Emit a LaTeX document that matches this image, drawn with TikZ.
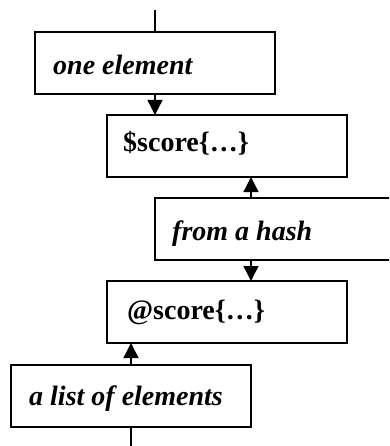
\documentclass[tikz,border=0pt]{standalone}
\usepackage{fontspec}
\setmainfont{Liberation Serif}
\usetikzlibrary{arrows.meta}
\begin{document}
\begin{tikzpicture}[x=1pt,y=-1pt,
 box/.style={draw, line width=1.3pt, minimum width=240pt, minimum height=62pt, anchor=north west, inner sep=0pt, outer sep=0pt},
 lbl/.style={anchor=base west, inner sep=0pt, font=\fontsize{28}{32}\selectfont\bfseries\itshape},
 code/.style={anchor=base west, inner sep=0pt, font=\fontsize{28}{32}\selectfont\bfseries},
 conn/.style={line width=1.3pt},
 arr/.style={conn, -{Triangle[length=15pt,width=15pt]}}]
\clip (0,0) rectangle (389,446);
\node[box] (b1) at (35,32) {};
\node[box] (b2) at (107,115) {};
\node[box, minimum width=270pt] (b3) at (155,198) {};
\node[box] (b4) at (107,281) {};
\node[box] (b5) at (11,365) {};
\node[lbl] (t1) at (53,75) {one element};
\node[code] (t2) at (123,152) {\$score\{…\}};
\node[lbl] (t3) at (172,240) {from a hash};
\node[code] (t4) at (127,319) {@score\{…\}};
\node[lbl] (t5) at (29,405) {a list of elements};
\coordinate (top) at (155,10);
\coordinate (bot) at (131,446);
\coordinate (ax) at (251,0);
\draw[conn] (b1.north |- top) -- (b1.north);
\draw[arr] (b1.south) -- (b2.north -| b1.south);
\draw[arr] (b3.north -| ax) -- (b2.south -| ax);
\draw[arr] (b3.south -| ax) -- (b4.north -| ax);
\draw[arr] (b5.north) -- (b4.south -| b5.north);
\draw[conn] (b5.south) -- (b5.south |- bot);
\end{tikzpicture}
\end{document}
